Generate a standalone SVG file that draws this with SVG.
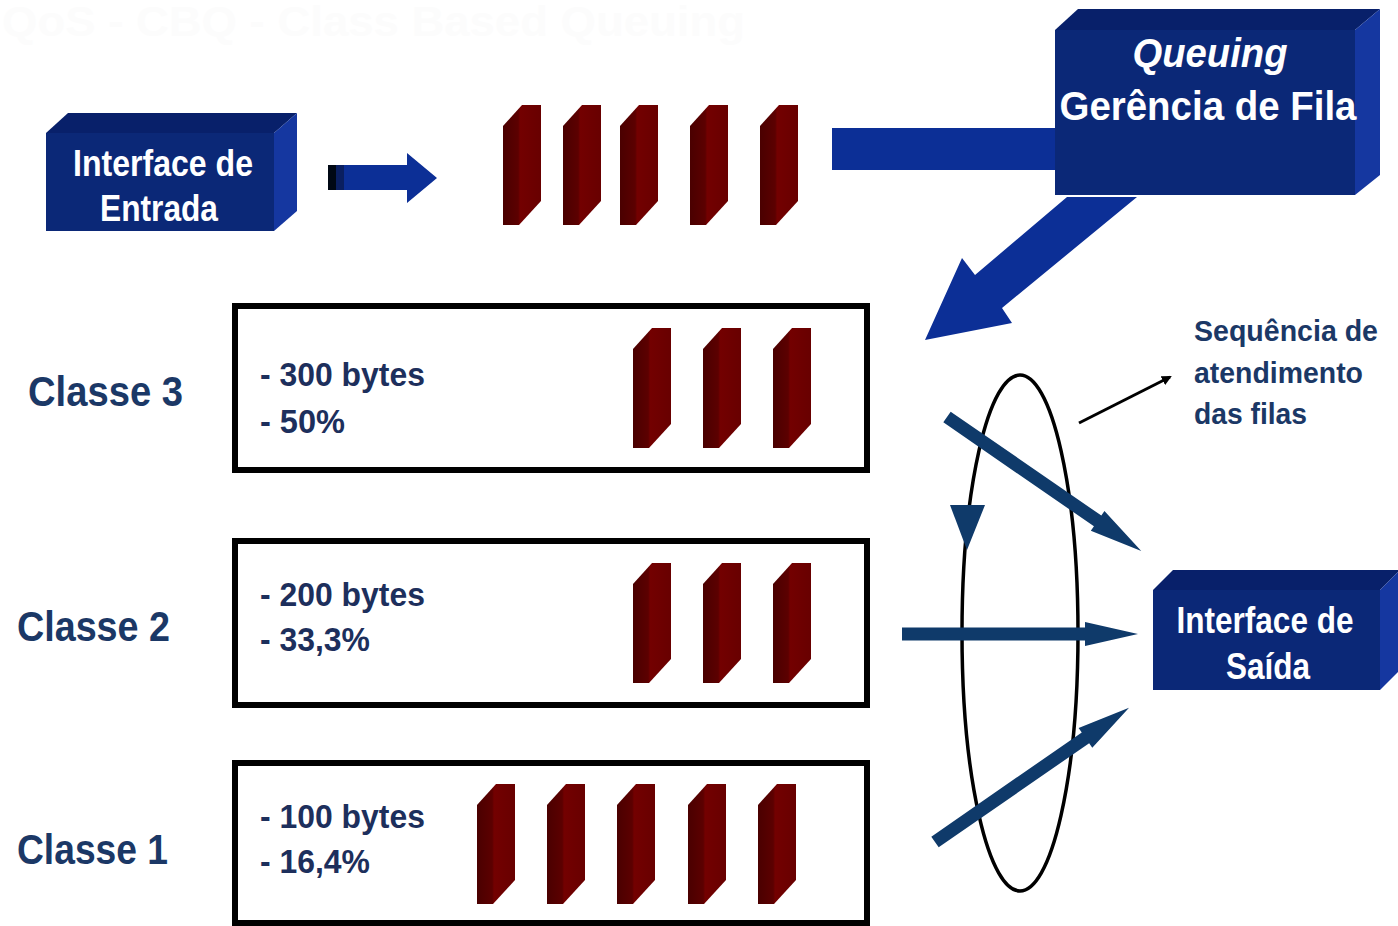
<svg xmlns="http://www.w3.org/2000/svg" width="1398" height="926" viewBox="0 0 1398 926">
<style>
.wt{font-family:"Liberation Sans",Arial,sans-serif;font-weight:bold;fill:#ffffff;text-anchor:middle}
.lbl{font-family:"Liberation Sans",Arial,sans-serif;font-weight:bold;fill:#1b3866}
.info{font-family:"Liberation Sans",Arial,sans-serif;font-weight:bold;fill:#1d2f5c;font-size:33px}
.front{fill:#0b2877}
.top{fill:#08206a}
.side{fill:#1537a0}
.qbox{fill:none;stroke:#000;stroke-width:6}
.blue{fill:#0c2f96}
.navy{fill:#0f3a6a}
</style>
<defs>
<linearGradient id="pk" x1="0" y1="0" x2="1" y2="0">
<stop offset="0" stop-color="#4a0000"/>
<stop offset="0.4" stop-color="#5c0000"/>
<stop offset="0.45" stop-color="#730000"/>
<stop offset="1" stop-color="#680000"/>
</linearGradient>
<path id="packet" d="M0,21 L19,0 L38,0 L38,96 L16,120 L0,120 Z" fill="url(#pk)"/>
<path id="classArrow" d="M0,-6.5 H183 V-12 L236,0 L183,12 V6.5 H0 Z"/>
<marker id="ah" markerWidth="10" markerHeight="10" refX="8" refY="5" orient="auto" markerUnits="userSpaceOnUse">
<path d="M0,0 L10,5 L0,10 Z" fill="#000"/>
</marker>
</defs>
<rect width="1398" height="926" fill="#ffffff"/>
<text x="2" y="36" font-family="Liberation Sans,Arial,sans-serif" font-weight="bold" font-size="42" fill="#fcfcfc" textLength="743" lengthAdjust="spacingAndGlyphs">QoS - CBQ - Class Based Queuing</text>

<g id="connectors">
<g id="entrada-arrow">
<rect x="328" y="165" width="8" height="25" fill="#000814"/>
<rect x="336" y="165" width="8" height="25" fill="#0a1f60"/>
<path d="M344,165 H407 V153 L437,178 L407,203 V190 H344 Z" class="blue"/>
</g>
<rect id="bar-queuing" x="832" y="128" width="230" height="42" class="blue"/>
<polygon id="queuing-arrow" points="1067,197 975,275 962,258 925,340 1012,323 1002,308 1137,197" class="blue"/>
<ellipse id="cycle" cx="1020" cy="633" rx="58" ry="258" fill="none" stroke="#000" stroke-width="3.5"/>
<polygon points="950,505 985,505 967,550" class="navy"/>
<use href="#classArrow" class="navy" transform="translate(947,417) rotate(34.6)"/>
<use href="#classArrow" class="navy" transform="translate(902,634)"/>
<use href="#classArrow" class="navy" transform="translate(935,842) rotate(-34.7)"/>
<line x1="1079" y1="423" x2="1170" y2="377" stroke="#000" stroke-width="3" marker-end="url(#ah)"/>
</g>

<g id="interface-entrada">
<polygon class="top" points="46,133 68,113 297,113 274,133"/>
<polygon class="side" points="274,133 297,113 297,211 274,231"/>
<rect class="front" x="46" y="133" width="228" height="98"/>
<text class="wt" x="163" y="176" font-size="36" textLength="180" lengthAdjust="spacingAndGlyphs">Interface de</text>
<text class="wt" x="159" y="221" font-size="36" textLength="118" lengthAdjust="spacingAndGlyphs">Entrada</text>
</g>

<g id="incoming-packets">
<use href="#packet" x="503" y="105"/>
<use href="#packet" x="563" y="105"/>
<use href="#packet" x="620" y="105"/>
<use href="#packet" x="690" y="105"/>
<use href="#packet" x="760" y="105"/>
</g>

<g id="queuing">
<polygon class="top" points="1055,30 1078,9 1380,9 1355,30"/>
<polygon class="side" points="1355,30 1380,9 1380,175 1355,195"/>
<rect class="front" x="1055" y="30" width="300" height="165"/>
<text class="wt" x="1210" y="67" font-size="40" font-style="italic" textLength="155" lengthAdjust="spacingAndGlyphs">Queuing</text>
<text class="wt" x="1208" y="120" font-size="40" textLength="297" lengthAdjust="spacingAndGlyphs">Gerência de Fila</text>
</g>

<g id="classe3">
<text class="lbl" x="28" y="406" font-size="43" textLength="155" lengthAdjust="spacingAndGlyphs">Classe 3</text>
<rect class="qbox" x="235" y="306" width="632" height="164"/>
<text class="info" x="260" y="386" textLength="165" lengthAdjust="spacingAndGlyphs">- 300 bytes</text>
<text class="info" x="260" y="433" textLength="85" lengthAdjust="spacingAndGlyphs">- 50%</text>
<use href="#packet" x="633" y="328"/>
<use href="#packet" x="703" y="328"/>
<use href="#packet" x="773" y="328"/>
</g>

<g id="classe2">
<text class="lbl" x="17" y="641" font-size="43" textLength="153" lengthAdjust="spacingAndGlyphs">Classe 2</text>
<rect class="qbox" x="235" y="541" width="632" height="164"/>
<text class="info" x="260" y="606" textLength="165" lengthAdjust="spacingAndGlyphs">- 200 bytes</text>
<text class="info" x="260" y="651" textLength="110" lengthAdjust="spacingAndGlyphs">- 33,3%</text>
<use href="#packet" x="633" y="563"/>
<use href="#packet" x="703" y="563"/>
<use href="#packet" x="773" y="563"/>
</g>

<g id="classe1">
<text class="lbl" x="17" y="864" font-size="43" textLength="151" lengthAdjust="spacingAndGlyphs">Classe 1</text>
<rect class="qbox" x="235" y="763" width="632" height="160"/>
<text class="info" x="260" y="828" textLength="165" lengthAdjust="spacingAndGlyphs">- 100 bytes</text>
<text class="info" x="260" y="873" textLength="110" lengthAdjust="spacingAndGlyphs">- 16,4%</text>
<use href="#packet" x="477" y="784"/>
<use href="#packet" x="547" y="784"/>
<use href="#packet" x="617" y="784"/>
<use href="#packet" x="688" y="784"/>
<use href="#packet" x="758" y="784"/>
</g>

<g id="sequencia-label">
<text class="lbl" x="1194" y="341" font-size="30" fill="#1e3a70" textLength="184" lengthAdjust="spacingAndGlyphs">Sequência de</text>
<text class="lbl" x="1194" y="383" font-size="30" textLength="169" lengthAdjust="spacingAndGlyphs">atendimento</text>
<text class="lbl" x="1194" y="424" font-size="30" textLength="113" lengthAdjust="spacingAndGlyphs">das filas</text>
</g>

<g id="interface-saida">
<polygon class="top" points="1153,590 1173,570 1400,570 1380,590"/>
<polygon class="side" points="1380,590 1400,570 1400,670 1380,690"/>
<rect class="front" x="1153" y="590" width="227" height="100"/>
<text class="wt" x="1265" y="633" font-size="36" textLength="177" lengthAdjust="spacingAndGlyphs">Interface de</text>
<text class="wt" x="1268" y="679" font-size="36" textLength="84" lengthAdjust="spacingAndGlyphs">Saída</text>
</g>
</svg>
